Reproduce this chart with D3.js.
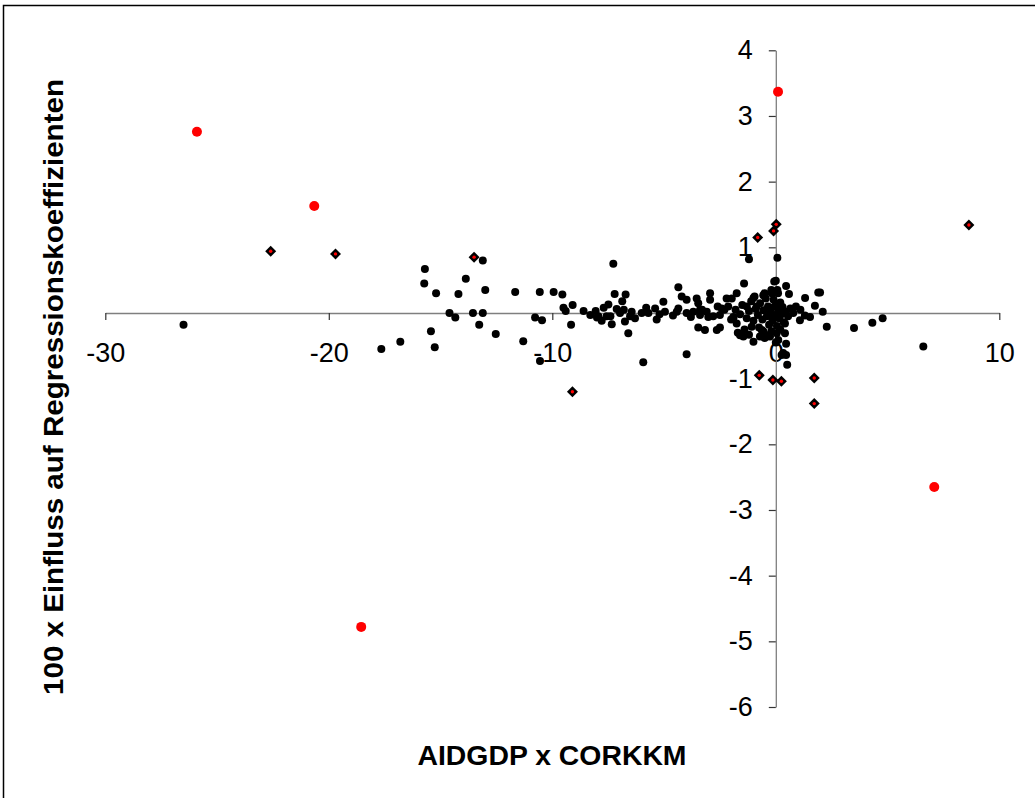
<!DOCTYPE html>
<html>
<head>
<meta charset="utf-8">
<script src="https://cdn.jsdelivr.net/npm/d3@7"></script>
<style>
  body { margin: 0; background: #fff; }
  svg { display: block; font-family: "Liberation Sans", Arial, sans-serif; }
</style>
</head>
<body>
<div id="chart"></div>
<script>
// x tick values / y tick values
var xTicks = [-30, -20, -10, 0, 10];
var yTicks = [-6, -5, -4, -3, -2, -1, 0, 1, 2, 3, 4];

// ordinary observations [AIDGDP x CORKKM, 100 x influence]
var dotPoints = [
  [-26.5,-0.18],[-17.65,-0.55],[-16.8,-0.44],
  [-15.7,0.67],[-15.73,0.45],[-15.2,0.3],[-14.2,0.29],[-13.87,0.52],[-13.11,0.8],[-13.0,0.35],
  [-14.6,0.0],[-14.34,-0.07],[-13.55,0.0],[-13.11,0.0],[-13.27,-0.18],[-15.43,-0.28],[-15.26,-0.52],
  [-12.53,-0.32],[-11.66,0.32],[-10.56,0.32],[-9.94,0.32],[-9.55,0.28],[-9.5,0.08],[-9.09,0.12],
  [-9.4,0.03],[-8.6,0.03],[-8.06,0.03],[-8.0,-0.07],[-10.77,-0.07],[-10.46,-0.11],[-9.16,-0.18],
  [-11.3,-0.43],[-10.55,-0.73],
  [-7.94,-0.05],[-7.79,-0.12],[-7.49,0.13],[-7.57,-0.05],[-7.34,-0.17],[-7.27,0.75],[-7.21,0.29],
  [-6.72,0.28],[-6.87,0.18],[-7.12,0.06],[-6.97,0.0],[-6.75,-0.13],[-6.6,-0.31],[-6.45,0.02],
  [-6.52,-0.05],[-6.0,0.0],[-5.93,-0.75],[-5.7,0.0],[-5.4,0.07],[-5.33,-0.1],[-5.03,0.17],
  [-4.96,0.02],[-4.36,0.39],[-4.21,0.25],[-3.99,0.2],[-4.36,0.07],[-4.43,0.02],[-3.99,0.0],
  [-3.99,-0.63],[-3.69,0.02],[-3.54,0.22],[-3.47,0.15],[-3.39,-0.03],[-3.47,-0.22],[-3.17,-0.26],
  [-3.09,0.02],[-2.94,0.3],[-2.94,0.2],[-3.02,-0.06],[-2.64,-0.26],[-2.5,-0.22],[-2.42,0.07],
  [-2.5,-0.03],[-2.13,0.1],[-2.2,0.22],[-1.97,0.22],[-1.75,0.3],[-1.42,0.45],[-1.2,0.82],
  [-1.9,-0.06],[-1.75,-0.16],[-1.45,-0.36],[-1.0,-0.44],[-1.08,-0.21],[-1.3,0.1],[-0.86,0.1],
  [-0.56,0.27],[-0.63,-0.26],[-0.34,-0.34],[-0.07,0.48],[-0.11,-0.06],
  [0.07,0.84],[0.0,0.49],[0.46,0.41],[0.59,0.29],[0.07,0.35],[1.31,0.23],[1.9,0.31],[1.75,0.11],
  [2.1,0.02],[2.28,-0.21],[1.08,-0.11],[1.53,-0.06],[0.78,0.0],[0.41,-0.16],[0.41,-0.31],
  [0.04,-0.31],[0.11,-0.41],[0.46,-0.47],[0.33,-0.61],[0.51,-0.79],[-0.56,-0.28],[-0.41,-0.36],
  [-1.9,-0.08],[-1.0,0.23],[-0.18,0.3],[-1.6,-0.34],[-0.71,-0.36],[-0.26,-0.36],[0.46,-0.64],
  [0.26,-0.64],[-3.39,0.05],
  [1.98,0.31],[3.5,-0.23],[4.32,-0.15],[4.78,-0.08],[6.6,-0.51],
  [-1.8,0.05],[-1.6,-0.02],[-1.5,0.12],[-1.3,-0.08],[-1.2,0.03],[-1.1,0.18],[-1.0,-0.12],
  [-0.9,0.06],[-0.8,-0.03],[-0.7,0.15],[-0.6,-0.1],[-0.55,0.04],[-0.45,0.22],[-0.4,-0.05],
  [-0.35,0.1],[-0.3,-0.18],[-0.25,0.0],[-0.2,0.08],[-0.15,-0.12],[-0.1,0.2],[-0.05,-0.03],
  [0.0,0.12],[0.05,-0.2],[0.1,0.05],[0.15,-0.08],[0.2,0.16],[0.25,-0.02],[0.3,0.09],
  [0.35,-0.14],[0.45,0.02],[0.55,-0.05],[0.65,0.07],[-0.95,0.25],[-0.5,0.3],[-0.2,0.35],
  [0.1,0.3],[-1.4,-0.25],[-0.75,-0.22],[-0.2,-0.28],[0.2,-0.25],[-2.3,0.05],[-2.0,-0.1],
  [-2.6,0.1],[-2.8,-0.05],[-3.3,0.05],[-3.8,-0.06],[-4.6,-0.04],[-5.2,-0.02],[-5.8,0.08],
  [-6.3,-0.08],[-6.8,0.05],[-7.4,-0.05],[-7.7,0.08],[-8.3,-0.03],[-1.7,-0.3],[-1.2,-0.33],
  [-0.5,-0.38],[0.0,-0.45],[1.1,0.05],[1.3,-0.04],[0.9,0.1]
];

// large outliers (red dots)
var outlierPoints = [
  [-25.9,2.76],[-20.65,1.63],[0.1,3.37],[-18.55,-4.78],[7.09,-2.65]
];

// flagged observations (black diamond, red centre)
var flaggedPoints = [
  [-22.6,0.94],[-19.7,0.9],[-13.5,0.85],[-9.1,-1.2],
  [-0.81,1.15],[0.02,1.35],[-0.1,1.25],[8.64,1.34],
  [-0.74,-0.95],[-0.13,-1.02],[0.25,-1.04],[1.72,-0.99],[1.72,-1.38]
];

var W = 1035, H = 798;

var svg = d3.select("#chart").append("svg")
  .attr("width", W)
  .attr("height", H);

svg.append("rect")
  .attr("x", 3.5)
  .attr("y", 5.5)
  .attr("width", W + 10)
  .attr("height", H + 10)
  .attr("fill", "#fff")
  .attr("stroke", "#000")
  .attr("stroke-width", 1.5);

var x = d3.scaleLinear().domain([-30, 10]).range([105.3, 999.3]);
var y = d3.scaleLinear().domain([-6, 4]).range([707, 50.3]);

var axisColor = "#7f7f7f";

// x axis crossing at y = 0
var gx = svg.append("g")
  .attr("transform", "translate(0," + y(0) + ")")
  .call(d3.axisBottom(x)
    .tickValues(xTicks)
    .tickSizeInner(7)
    .tickSizeOuter(0)
    .tickPadding(23)
    .tickFormat(function(d){ return String(d); }));

// y axis crossing at x = 0
var gy = svg.append("g")
  .attr("transform", "translate(" + x(0) + ",0)")
  .call(d3.axisLeft(y)
    .tickValues(yTicks)
    .tickSizeInner(7)
    .tickSizeOuter(0)
    .tickPadding(16)
    .tickFormat(function(d){ return d === 0 ? "" : String(d); }));

[gx, gy].forEach(function(g){
  g.select(".domain").attr("stroke", axisColor).attr("stroke-width", 1.3);
  g.selectAll(".tick line").attr("stroke", "#333").attr("stroke-width", 1.2);
  g.selectAll(".tick text")
    .attr("fill", "#000")
    .style("font-family", "'Liberation Sans', Arial, sans-serif")
    .style("font-size", "27px");
});
gx.selectAll(".tick text").attr("dy", "0.71em");

// black dots
svg.append("g").selectAll("circle").data(dotPoints).enter()
  .append("circle")
  .attr("cx", function(d){ return x(d[0]); })
  .attr("cy", function(d){ return y(d[1]); })
  .attr("r", 4)
  .attr("fill", "#000");

// flagged diamonds
var dia = svg.append("g").selectAll("g").data(flaggedPoints).enter()
  .append("g")
  .attr("transform", function(d){ return "translate(" + x(d[0]) + "," + y(d[1]) + ")"; });
dia.append("path")
  .attr("d", "M0,-5.5L5.5,0L0,5.5L-5.5,0Z")
  .attr("fill", "#000");
dia.append("circle")
  .attr("r", 1.7)
  .attr("fill", "#ff0000");

// red outliers
svg.append("g").selectAll("circle").data(outlierPoints).enter()
  .append("circle")
  .attr("cx", function(d){ return x(d[0]); })
  .attr("cy", function(d){ return y(d[1]); })
  .attr("r", 5)
  .attr("fill", "#ff0000");

// axis titles
svg.append("text")
  .attr("x", 552)
  .attr("y", 765)
  .attr("text-anchor", "middle")
  .attr("textLength", 269)
  .attr("lengthAdjust", "spacingAndGlyphs")
  .style("font-size", "27px")
  .style("font-weight", "bold")
  .text("AIDGDP x CORKKM");

svg.append("text")
  .attr("transform", "translate(63,387) rotate(-90)")
  .attr("text-anchor", "middle")
  .attr("textLength", 616)
  .attr("lengthAdjust", "spacingAndGlyphs")
  .style("font-size", "28px")
  .style("font-weight", "bold")
  .text("100 x Einfluss auf Regressionskoeffizienten");
</script>
</body>
</html>
